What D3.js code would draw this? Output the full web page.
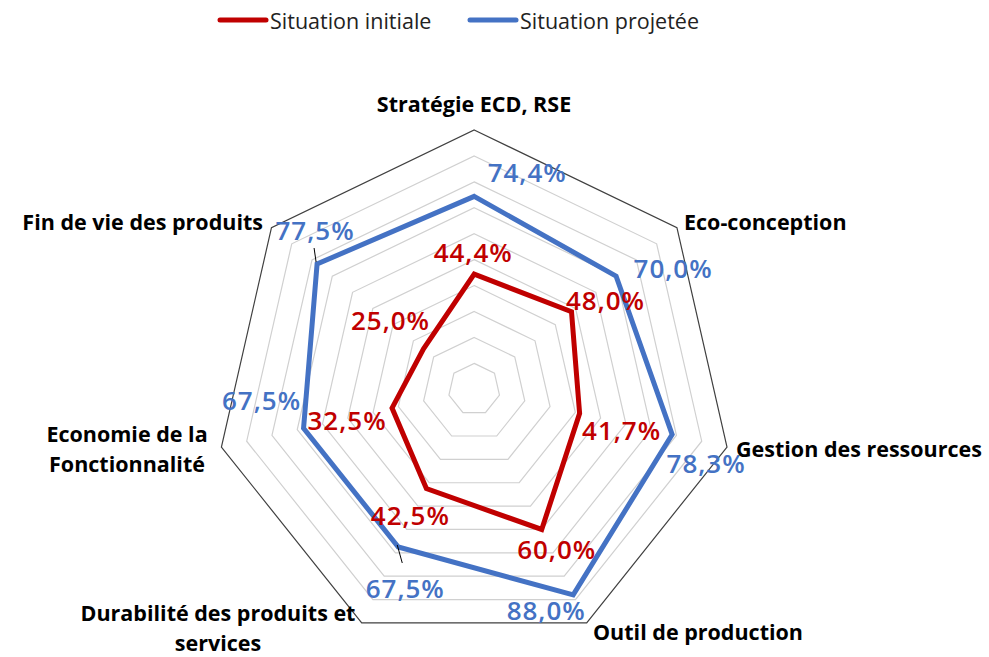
<!DOCTYPE html>
<html><head><meta charset="utf-8">
<script src="https://cdn.jsdelivr.net/npm/d3@7"></script>
<style>body{margin:0;background:#fff}svg{display:block}</style>
</head><body>
<svg id="c" width="989" height="657"></svg>
<script>
const categories = ["Stratégie ECD, RSE","Eco-conception","Gestion des ressources","Outil de production","Durabilité des produits et services","Economie de la Fonctionnalité","Fin de vie des produits"];
const initiale = [44.4, 48.0, 41.7, 60.0, 42.5, 32.5, 25.0];
const projetee = [74.4, 70.0, 78.3, 88.0, 67.5, 67.5, 77.5];
const gridLevels = [10,20,30,40,50,60,70,80,90,100];
const seriesNames = ["Situation initiale","Situation projetée"];
// label nudges (px) relative to each point
const nudgeInit = [[-1,-22],[34,-12],[42,17],[15,20],[-16,26],[-45,12],[-33,-29]];
const nudgeProj = [[53,-24],[57,-8],[34,29],[-27,15],[7,41],[-42,-28],[-2,-34]];

const svg = d3.select("#c");
const cx = 474.2, cy = 389.3, R = 259.3;
const r = d3.scaleLinear().domain([0,100]).range([0,R]);
const n = categories.length;
const ang = d3.scaleLinear().domain([0,n]).range([0, 2*Math.PI]);
const pt = (i,v)=>[cx + r(v)*Math.sin(ang(i)), cy - r(v)*Math.cos(ang(i))];
const line = d3.line();
const g = svg.append("g");
const FONT = "'Open Sans', Lato, sans-serif";

gridLevels.forEach(l=>{
  const pts = d3.range(n).map(i=>pt(i,l));
  g.append("path").attr("d", line(pts)+"Z").attr("fill","none")
   .attr("stroke", l===100 ? "#404040" : "#d0d0d0").attr("stroke-width", 1.2);
});

const colors = ["#C00000","#4472C4"];
[initiale, projetee].forEach((s,si)=>{
  const pts = s.map((v,i)=>pt(i,v));
  g.append("path").attr("d", line(pts)+"Z").attr("fill","none")
   .attr("stroke", colors[si]).attr("stroke-width",5).attr("stroke-linejoin","miter");
});

// leader lines
[[6,-3,-16],[4,4,16]].forEach(([i,ex,ey])=>{
  const p = pt(i, projetee[i]);
  g.append("line").attr("x1",p[0]-1).attr("y1",p[1]-2).attr("x2",p[0]+ex).attr("y2",p[1]+ey)
   .attr("stroke","#000").attr("stroke-width",1);
});

const fmt = v => d3.format(".1f")(v).replace(".",",")+"%";
[[initiale,nudgeInit,0],[projetee,nudgeProj,1]].forEach(([s,nd,si])=>{
  s.forEach((v,i)=>{
    const p = pt(i,v);
    g.append("text").attr("x",p[0]+nd[i][0]).attr("y",p[1]+nd[i][1])
     .attr("text-anchor","middle").attr("dominant-baseline","central")
     .attr("font-family",FONT).attr("font-size",26).attr("font-weight",600)
     .attr("letter-spacing",1)
     .attr("fill",colors[si]).text(fmt(v));
  });
});

// category labels
const catPos = [
  {x:474, y:103, a:"middle"},
  {x:684, y:221, a:"start"},
  {x:736, y:448, a:"start"},
  {x:593, y:631, a:"start"},
  {x:218, y:612, a:"middle"},
  {x:127, y:433, a:"middle"},
  {x:263, y:221, a:"end"}
];
catPos.forEach((c,i)=>{
  const t = g.append("text").attr("text-anchor",c.a).attr("font-family",FONT)
    .attr("font-size",21.5).attr("font-weight",700).attr("fill","#000");
  const lines = i===4 ? ["Durabilité des produits et","services"] : i===5 ? ["Economie de la","Fonctionnalité"] : [categories[i]];
  lines.forEach((ln,k)=>{
    t.append("tspan").attr("x",c.x).attr("y",c.y+k*30).attr("dominant-baseline","central").text(ln);
  });
});

// legend
const leg = [{x1:220,x2:266,tx:270},{x1:470,x2:516,tx:520}];
seriesNames.forEach((s,i)=>{
  svg.append("line").attr("x1",leg[i].x1).attr("x2",leg[i].x2).attr("y1",20).attr("y2",20)
    .attr("stroke",colors[i]).attr("stroke-width",5).attr("stroke-linecap","round");
  svg.append("text").attr("x",leg[i].tx).attr("y",20).attr("dominant-baseline","central")
    .attr("font-family",FONT).attr("font-size",21.5).attr("fill","#222").text(s);
});
</script>
</body></html>
